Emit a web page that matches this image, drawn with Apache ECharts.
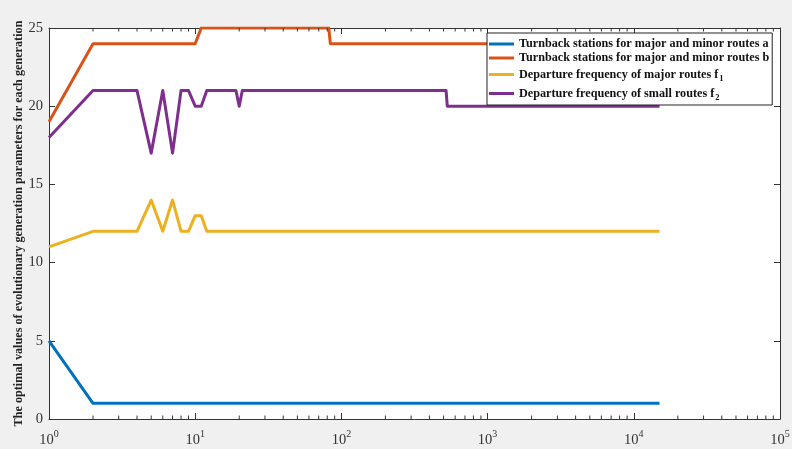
<!DOCTYPE html>
<html>
<head>
<meta charset="utf-8">
<script src="https://cdn.jsdelivr.net/npm/echarts@6/dist/echarts.min.js"></script>
<style>
html,body{margin:0;padding:0;background:#f0f0f0;}
#c{width:792px;height:449px;}
</style>
</head>
<body>
<div id="c"></div>
<script>
// ---- data (generation, value) ----
var seriesNames = [
  'Turnback stations for major and minor routes a',
  'Turnback stations for major and minor routes b',
  'Departure frequency of major routes f',
  'Departure frequency of small routes f'
];
var legendSubs = ['', '', '1', '2'];
var colors = ['#0072BD', '#D95319', '#EDB120', '#7E2F8E'];

var aGen = [1, 2, 15000];
var aVal = [5, 1, 1];

var bGen = [1, 2, 10, 11, 82, 84, 15000];
var bVal = [19, 24, 24, 25, 25, 24, 24];

var f1Gen = [1, 2, 4, 5, 6, 7, 8, 9, 10, 11, 12, 15000];
var f1Val = [11, 12, 12, 14, 12, 14, 12, 12, 13, 13, 12, 12];

var f2Gen = [1, 2, 4, 5, 6, 7, 8, 9, 10, 11, 12, 19, 20, 21, 520, 530, 15000];
var f2Val = [18, 21, 21, 17, 21, 17, 21, 21, 20, 20, 21, 21, 20, 21, 21, 20, 20];

var yTicks = [0, 5, 10, 15, 20, 25];
var xMajorTicks = [1, 10, 100, 1000, 10000, 100000];
var minorTicks = [];
for (var d = 0; d < 5; d++) {
  for (var m = 2; m <= 9; m++) minorTicks.push(m * Math.pow(10, d));
}

function pairs(g, v) { return g.map(function (x, i) { return [x, v[i]]; }); }

var serif = '"Liberation Serif","Times New Roman",serif';
var chart = echarts.init(document.getElementById('c'), null, {renderer: 'canvas'});

var lineSeries = [[aGen, aVal], [bGen, bVal], [f1Gen, f1Val], [f2Gen, f2Val]].map(function (s, i) {
  return {
    name: seriesNames[i],
    type: 'line',
    data: pairs(s[0], s[1]),
    showSymbol: false,
    symbol: 'none',
    lineStyle: {width: 3, color: colors[i], join: 'round'},
    itemStyle: {color: colors[i]},
    animation: false,
    z: 2
  };
});

var minorSeries = {
  type: 'custom',
  name: 'minor',
  data: minorTicks.map(function (v) { return [v]; }),
  silent: true,
  animation: false,
  z: 3,
  renderItem: function (params, api) {
    var v = api.value(0);
    var b = api.coord([v, 0]);
    var t = api.coord([v, 25]);
    var st = {stroke: '#333', lineWidth: 1};
    return {
      type: 'group',
      children: [
        {type: 'line', shape: {x1: b[0], y1: b[1], x2: b[0], y2: b[1] - 3.5}, style: st},
        {type: 'line', shape: {x1: t[0], y1: t[1], x2: t[0], y2: t[1] + 3.5}, style: st}
      ]
    };
  }
};

var xAxisBase = {
  type: 'log',
  logBase: 10,
  min: 1,
  max: 100000,
  splitLine: {show: false},
  axisLine: {show: true, onZero: false, lineStyle: {color: '#333', width: 1}},
  axisTick: {show: true, inside: true, length: 6, lineStyle: {color: '#333'}},
  minorTick: {show: false}
};

chart.setOption({
  backgroundColor: '#f0f0f0',
  animation: false,
  grid: {left: 49, right: 12, top: 28, bottom: 30, show: true, backgroundColor: '#ffffff', borderWidth: 0, outerBoundsMode: 'none', containLabel: false},
  legend: {
    data: seriesNames,
    orient: 'vertical',
    left: 487,
    top: 33,
    padding: [5, 3, 3, 2],
    itemGap: 2,
    itemWidth: 25,
    itemHeight: 3,
    icon: 'rect',
    z: 20,
    backgroundColor: '#ffffff',
    borderColor: '#222',
    borderWidth: 1,
    borderRadius: 0,
    formatter: function (name) {
      var i = seriesNames.indexOf(name);
      return legendSubs[i] ? '{t|' + name + '}{s|' + legendSubs[i] + '}' : '{t|' + name + '}';
    },
    textStyle: {
      fontFamily: serif,
      fontWeight: 'bold',
      fontSize: 12.2,
      color: '#111',
      rich: {
        t: {fontFamily: serif, fontWeight: 'bold', fontSize: 12.2, color: '#111', lineHeight: 13},
        s: {fontFamily: serif, fontWeight: 'bold', fontSize: 8.5, color: '#111', padding: [8, 0, 0, 1], lineHeight: 13}
      }
    }
  },
  xAxis: [
    Object.assign({}, xAxisBase, {
      position: 'bottom',
      axisLabel: {
        show: true,
        margin: 8,
        formatter: function (v) {
          return '{b|10}{p|' + Math.round(Math.log10(v)) + '}';
        },
        rich: {
          b: {fontFamily: serif, fontSize: 14.5, color: '#333', padding: [6, 0, 0, 0]},
          p: {fontFamily: serif, fontSize: 10, color: '#333', padding: [0, 0, 6, 0]}
        }
      }
    }),
    Object.assign({}, xAxisBase, {
      position: 'top',
      axisLabel: {show: false}
    })
  ],
  yAxis: [
    {
      type: 'value',
      min: 0,
      max: 25,
      interval: 5,
      position: 'left',
      name: 'The optimal values of evolutionary generation parameters for each generation',
      nameLocation: 'middle',
      nameRotate: 90,
      nameGap: 24,
      nameMoveOverlap: false,
      nameTextStyle: {fontFamily: serif, fontWeight: 'bold', fontSize: 12.2, color: '#222'},
      splitLine: {show: false},
      axisLine: {show: true, lineStyle: {color: '#333', width: 1}},
      axisTick: {show: true, inside: true, length: 6, lineStyle: {color: '#333'}},
      axisLabel: {fontFamily: serif, fontSize: 14.5, color: '#333', margin: 6}
    },
    {
      type: 'value',
      min: 0,
      max: 25,
      interval: 5,
      position: 'right',
      splitLine: {show: false},
      axisLine: {show: true, lineStyle: {color: '#333', width: 1}},
      axisTick: {show: true, inside: true, length: 6, lineStyle: {color: '#333'}},
      axisLabel: {show: false}
    }
  ],
  series: lineSeries.concat([minorSeries])
});
</script>
</body>
</html>
